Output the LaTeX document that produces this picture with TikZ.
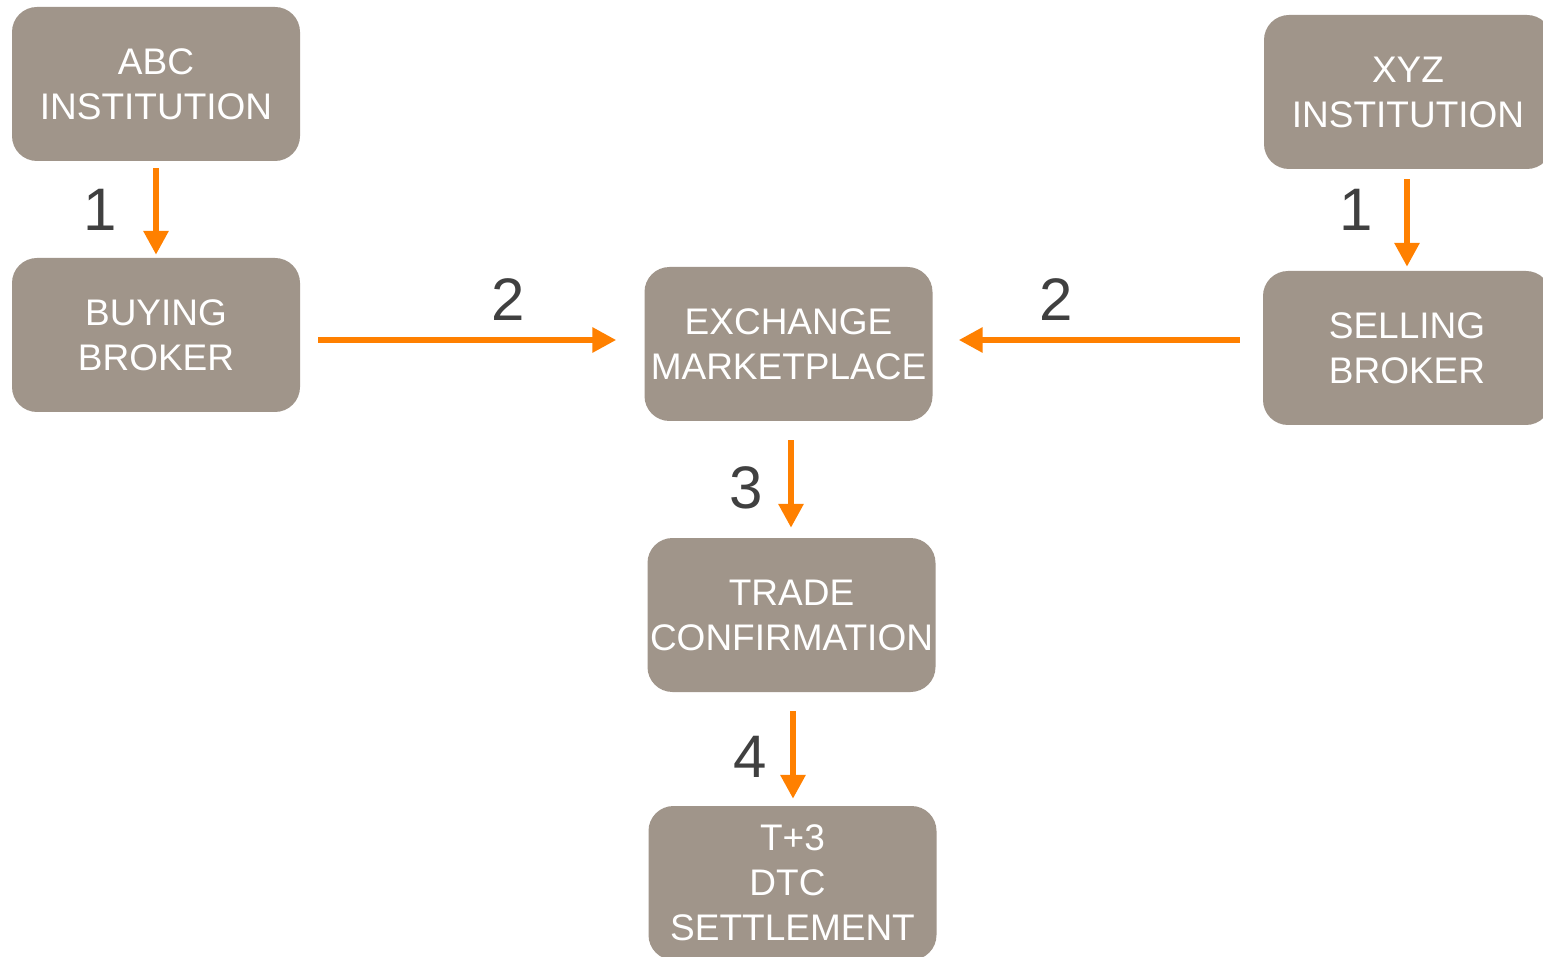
\documentclass[tikz,border=0pt]{standalone}
\usepackage{fontspec}
\setmainfont{Liberation Sans}
\usetikzlibrary{arrows.meta}
\definecolor{boxc}{HTML}{A0958A}
\definecolor{arrc}{HTML}{FF8000}
\definecolor{numc}{HTML}{404040}
\tikzset{
  stepbox/.style={fill=boxc, draw=none, rounded corners=25pt, minimum width=288pt, minimum height=154pt,
    inner sep=0pt, align=center, text=white, font=\fontsize{37}{45}\selectfont},
  arr/.style={draw=arrc, line width=6.5pt, -{Triangle[width=24pt,length=24pt]}},
  num/.style={text=numc, font=\fontsize{60}{60}\selectfont, inner sep=0pt}
}
\begin{document}
\begin{tikzpicture}[x=1pt,y=-1pt]
\useasboundingbox (0,0) rectangle (1543,957);
\fill[white] (0,0) rectangle (1543,957);
\node[stepbox] (abc) at (156,84) {ABC\\INSTITUTION};
\node[stepbox] (buy) at (156,335) {BUYING\\BROKER};
\node[stepbox] (ex) at (788.5,344) {EXCHANGE\\MARKETPLACE};
\node[stepbox] (tr) at (791.5,615) {TRADE\\CONFIRMATION};
\node[stepbox] (set) at (792.5,883) {T+3\\DTC\rule{10pt}{0pt}\\SETTLEMENT};
\node[stepbox] (xyz) at (1408,92) {XYZ\\INSTITUTION};
\node[stepbox] (sel) at (1407,348) {SELLING\\BROKER};

\draw[arr, shorten <=7pt, shorten >=3pt] (abc.south) -- (buy.north);
\draw[arr, shorten <=10pt, shorten >=4pt] (xyz.south -| sel.north) -- (sel.north);
\draw[arr, shorten <=18pt, shorten >=28pt] (buy.east |- 0,340) -- (ex.west |- 0,340);
\draw[arr, shorten <=23pt, shorten >=26pt] (sel.west |- 0,340) -- (ex.east |- 0,340);
\draw[arr, shorten <=19pt, shorten >=10pt] (ex.south -| 791,0) -- (tr.north -| 791,0);
\draw[arr, shorten <=19pt, shorten >=7pt] (tr.south -| 793,0) -- (set.north -| 793,0);

\node[num] (n1a) at (100,210) {1};
\node[num] (n1b) at (1356,210) {1};
\node[num] (n2a) at (508,300) {2};
\node[num] (n2b) at (1056,300) {2};
\node[num] (n3) at (746,488) {3};
\node[num] (n4) at (750,757) {4};
\end{tikzpicture}
\end{document}
